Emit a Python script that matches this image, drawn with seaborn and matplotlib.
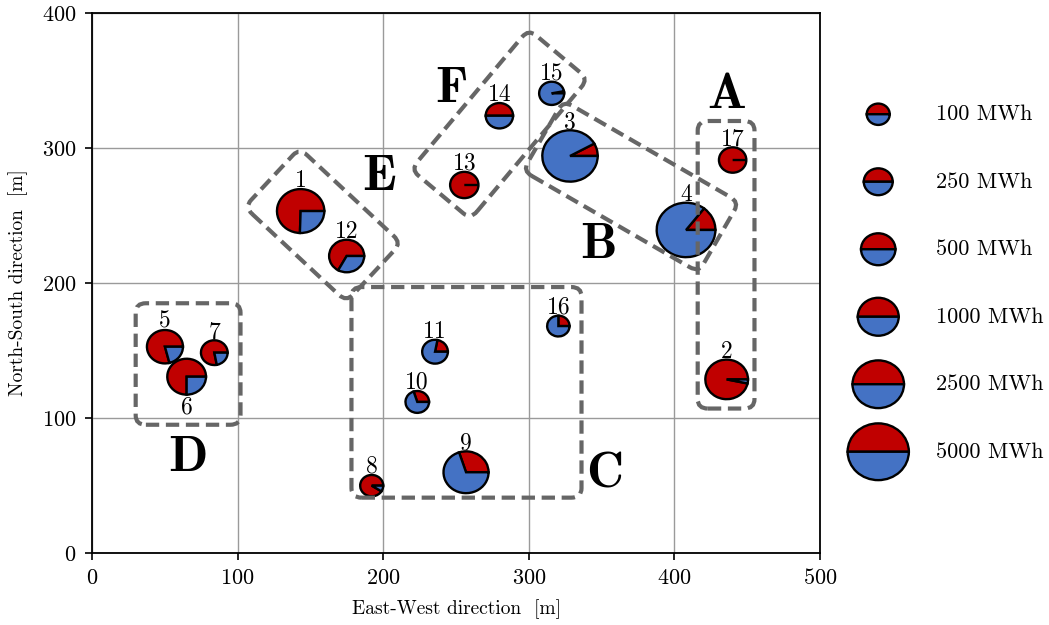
import matplotlib
matplotlib.use("Agg")
import matplotlib.pyplot as plt
import seaborn as sns
from matplotlib.patches import Wedge, FancyBboxPatch
from matplotlib.transforms import Affine2D

# Sites: id, position [m], annual energy [MWh], share of the red component
site_ids = [1, 2, 3, 4, 5, 6, 7, 8, 9, 10, 11, 12, 13, 14, 15, 16, 17]
east_west = [143.3, 435.9, 328.3, 408.0, 50.1, 65.0, 84.0, 192.1, 256.9,
             223.4, 235.6, 174.9, 255.7, 279.8, 315.7, 320.3, 440.0]
north_south = [253.3, 128.6, 294.1, 239.3, 152.8, 130.6, 148.4, 49.9, 59.8,
               111.9, 149.1, 220.0, 272.6, 323.9, 340.5, 168.1, 291.1]
energy_mwh = [1790, 1180, 3350, 4230, 600, 800, 180, 100, 1470,
              110, 155, 540, 230, 200, 140, 90, 200]
red_share = [0.745, 0.967, 0.08, 0.145, 0.79, 0.75, 0.78, 0.91, 0.30,
             0.30, 0.22, 0.67, 1.0, 0.5, 0.03, 0.25, 1.0]
label_below = [6]

# Size legend
legend_energy = [100, 250, 500, 1000, 2500, 5000]
legend_labels = [f"{e} MWh" for e in legend_energy]

# Cluster outlines: centre, width, height (data units) and rotation (deg)
cluster_names = ["A", "B", "C", "D", "E", "F"]
cluster_cx = [435.5, 370.2, 257.2, 66.0, 158.6, 279.9]
cluster_cy = [213.5, 271.5, 119.0, 140.0, 243.0, 317.6]
cluster_w = [39.0, 139.4, 158.0, 72.0, 95.5, 125.7]
cluster_h = [213.0, 60.0, 156.0, 90.0, 59.6, 57.5]
cluster_angle = [0, -30, 0, 0, -43, 50]
letter_x = [436, 347.5, 352, 66, 197, 247]
letter_y = [339, 228, 58, 70, 278.5, 343]

RED = "#C00000"
BLUE = "#4472C4"
BOX_GREY = "#666666"

sns.set_theme(style="ticks")
plt.rcParams.update({
    "font.family": ["cmr10", "DejaVu Serif"],
    "axes.formatter.use_mathtext": True,
    "mathtext.fontset": "cm",
    "axes.unicode_minus": False,
    "text.color": "black",
    "axes.labelcolor": "black",
    "xtick.color": "black",
    "ytick.color": "black",
})


def radius(e):
    return 2.5 * e ** 0.25


def draw_pie(ax, x, y, e, share, clip=True):
    r = radius(e)
    split = 360.0 * share
    kw = dict(edgecolor="black", linewidth=1.7, zorder=3, clip_on=clip)
    ax.add_patch(Wedge((x, y), r, 0.0, split, facecolor=RED, **kw))
    ax.add_patch(Wedge((x, y), r, split, 360.0, facecolor=BLUE, **kw))
    return r


fig = plt.figure(figsize=(10.49, 6.25), dpi=100)
ax = fig.add_axes([92 / 1049, 72 / 625, 728 / 1049, 540 / 625])
ax.set_xlim(0, 500)
ax.set_ylim(0, 400)
ax.set_xticks([0, 100, 200, 300, 400, 500])
ax.set_yticks([0, 100, 200, 300, 400])
ax.grid(True, color="#9a9a9a", linewidth=1.0, zorder=0)
ax.set_axisbelow(True)
for s in ax.spines.values():
    s.set_color("black")
    s.set_linewidth(1.3)
ax.tick_params(direction="out", length=5, width=1.2, labelsize=16,
               colors="black", pad=6)
ax.set_xlabel("East-West direction  [m]", fontsize=14, labelpad=8)
ax.set_ylabel("North-South direction  [m]", fontsize=14, labelpad=10)

# Site pies with their numbers
for sid, x, y, e, f in zip(site_ids, east_west, north_south, energy_mwh, red_share):
    r = draw_pie(ax, x, y, e, f)
    if sid in label_below:
        ax.text(x, y - r - 1.5, str(sid), ha="center", va="top", fontsize=17, zorder=4)
    else:
        ax.text(x, y + r + 1.5, str(sid), ha="center", va="baseline", fontsize=17, zorder=4)

# Dashed cluster outlines, rotated in screen space around their centres
for name, cx, cy, w, h, ang in zip(cluster_names, cluster_cx, cluster_cy,
                                   cluster_w, cluster_h, cluster_angle):
    box = FancyBboxPatch((cx - w / 2, cy - h / 2), w, h,
                         boxstyle="round,pad=0,rounding_size=7",
                         facecolor="none", edgecolor=BOX_GREY, linewidth=3.0,
                         linestyle=(0, (3.2, 1.6)), zorder=5, clip_on=False)
    px, py = ax.transData.transform((cx, cy))
    box.set_transform(ax.transData + Affine2D().rotate_deg_around(px, py, ang))
    ax.add_patch(box)

for name, lx, ly in zip(cluster_names, letter_x, letter_y):
    ax.text(lx, ly, name, ha="center", va="center", fontsize=37,
            family=["cmb10", "DejaVu Serif"], fontweight="bold",
            color="black", zorder=6)

# Size legend to the right of the map
for i, (e, lab) in enumerate(zip(legend_energy, legend_labels)):
    ly = 325 - 50 * i
    draw_pie(ax, 540, ly, e, 0.5, clip=False)
    ax.text(580, ly, lab, ha="left", va="center", fontsize=16, clip_on=False)

fig.savefig("out.png", dpi=100)
